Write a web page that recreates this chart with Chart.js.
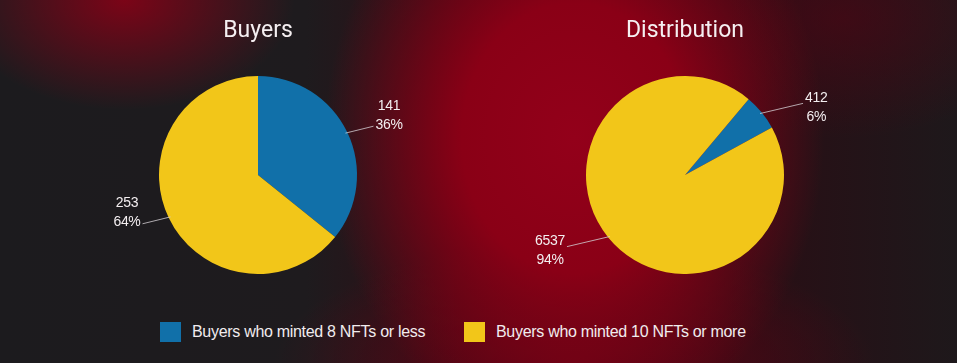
<!DOCTYPE html>
<html>
<head>
<meta charset="utf-8">
<script src="https://cdn.jsdelivr.net/npm/chart.js@4.4.1/dist/chart.umd.min.js"></script>
<style>
  html, body { margin: 0; padding: 0; }
  body {
    width: 957px; height: 363px; overflow: hidden; position: relative;
    background:
      radial-gradient(ellipse 250px 300px at 60% 38%, #93001a 0%, #8a0016 45%, rgba(125,0,20,0) 100%),
      radial-gradient(ellipse 170px 110px at 13% 0%, rgba(140,0,22,0.85), rgba(140,0,22,0) 100%),
      radial-gradient(ellipse 300px 120px at 60% 100%, rgba(110,0,20,0.75), rgba(110,0,20,0) 100%),
      radial-gradient(ellipse 200px 120px at 88% 5%, rgba(80,5,20,0.6), rgba(80,5,20,0) 100%),
      linear-gradient(90deg, #1c1b1e 0%, #1e1b1e 32%, #330c14 48%, #2a0d14 76%, #1e181b 100%);
  }
  canvas { position: absolute; top: 0; }
  #buyers { left: 58px; }
  #distribution { left: 485px; }
  #legend {
    position: absolute; left: 160px; top: 322px;
    display: grid; grid-template-columns: 304px auto;
    font-family: "Liberation Sans", Arial, sans-serif;
    font-size: 16px; letter-spacing: -0.3px; color: #f1ecee;
  }
  .item { display: flex; align-items: center; height: 20px; }
  .box { width: 21px; height: 20px; margin-right: 11px; }
</style>
</head>
<body>
<canvas id="buyers" width="400" height="274"></canvas>
<canvas id="distribution" width="400" height="274"></canvas>
<div id="legend"></div>
<script>
const categories = ["Buyers who minted 8 NFTs or less", "Buyers who minted 10 NFTs or more"];
const colors = ["#1170a9", "#f2c619"];
const buyersValues = [141, 253];
const distributionValues = [412, 6537];

const labelFont = '14px "Liberation Sans", Arial, sans-serif';

// value + percent labels with leader lines
const pieLabels = {
    id: "pieLabels",
    afterDatasetsDraw(chart, args, opts) {
        const ctx = chart.ctx;
        const data = chart.data.datasets[0].data;
        const total = data.reduce((a, b) => a + b, 0);
        const meta = chart.getDatasetMeta(0);

        ctx.save();
        ctx.font = labelFont;
        ctx.letterSpacing = "-0.3px";
        ctx.textBaseline = "middle";
        ctx.textAlign = "center";

        meta.data.forEach((arc, i) => {
            const p = arc.getProps(["x", "y", "startAngle", "endAngle", "outerRadius"], true);
            const mid = (p.startAngle + p.endAngle) / 2;
            const cos = Math.cos(mid), sin = Math.sin(mid);
            const ex = p.x + cos * (p.outerRadius - 2);
            const ey = p.y + sin * (p.outerRadius - 2);
            const side = cos >= 0 ? 1 : -1;
            const lx = ex + side * opts.lineLength;
            const ly = ey + sin * opts.rise;

            ctx.strokeStyle = "rgba(210,205,210,0.8)";
            ctx.lineWidth = 1;
            ctx.beginPath();
            ctx.moveTo(ex, ey);
            ctx.lineTo(lx, ly);
            ctx.stroke();

            const line1 = String(data[i]);
            const line2 = Math.round(data[i] / total * 100) + "%";
            const w = Math.max(ctx.measureText(line1).width, ctx.measureText(line2).width);
            const tx = lx + side * (w / 2 + 2);
            const cy = ly + opts.shiftY;

            ctx.fillStyle = "#f3eef0";
            ctx.fillText(line1, tx, cy - 9.5);
            ctx.fillText(line2, tx, cy + 9.5);
        });
        ctx.restore();
    }
};

function makePie(id, title, values, rotation, labelOpts) {
    return new Chart(document.getElementById(id), {
        type: "pie",
        data: {
            labels: categories,
            datasets: [{
                data: values,
                backgroundColor: colors,
                borderWidth: 0
            }]
        },
        options: {
            responsive: false,
            animation: false,
            devicePixelRatio: 1,
            rotation: rotation,
            layout: { padding: 0 },
            plugins: {
                legend: { display: false },
                tooltip: { enabled: false },
                title: {
                    display: true,
                    text: title,
                    color: "#f5eff1",
                    font: { family: "Roboto", size: 23, weight: "normal" },
                    padding: { top: 17, bottom: 31.4 }
                },
                pieLabels: labelOpts
            }
        },
        plugins: [pieLabels]
    });
}

makePie("buyers", "Buyers", buyersValues, 0, { lineLength: 28, rise: 16, shiftY: -11 });
makePie("distribution", "Distribution", distributionValues, 40, { lineLength: 43, rise: 16, shiftY: 4 });

/* ===== legend ===== */
const legend = document.getElementById("legend");
categories.forEach((name, i) => {
    const item = document.createElement("div");
    item.className = "item";
    item.innerHTML = `<span class="box" style="background:${colors[i]}"></span><span>${name}</span>`;
    legend.appendChild(item);
});
</script>
</body>
</html>
